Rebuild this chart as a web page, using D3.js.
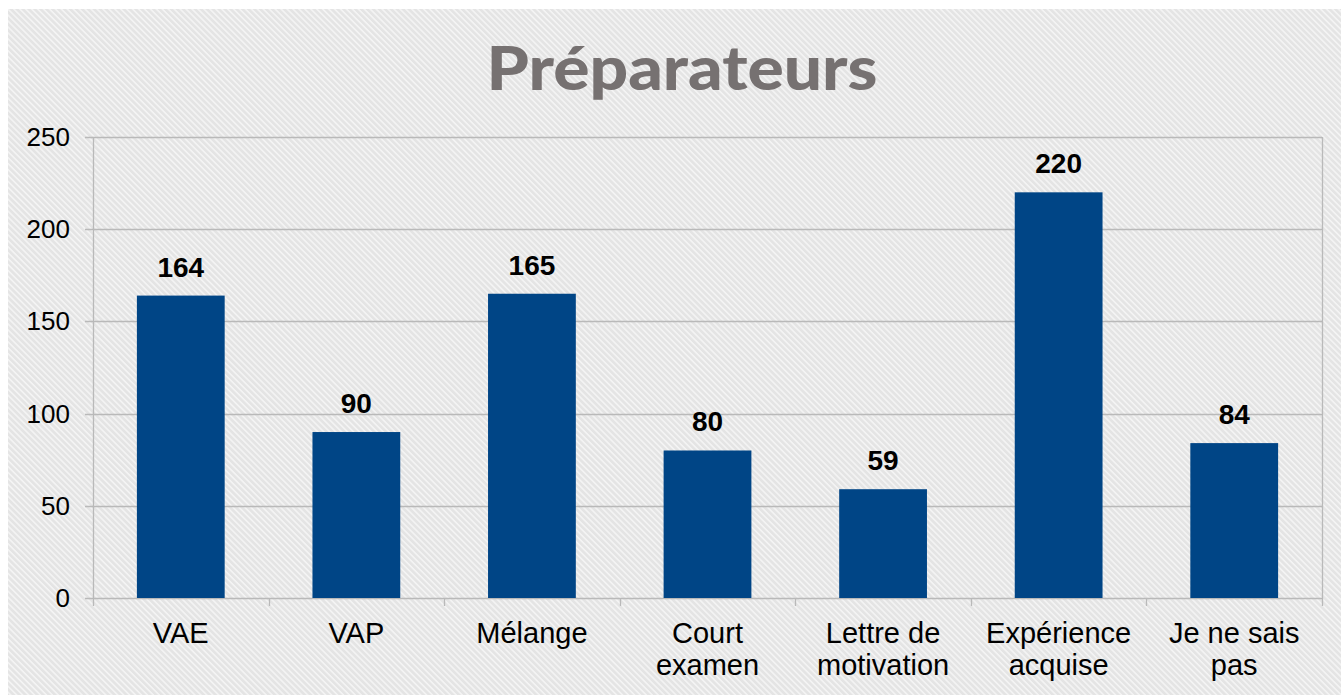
<!DOCTYPE html>
<html>
<head>
  <meta charset="utf-8">
  <title>Préparateurs</title>
  <script src="https://d3js.org/d3.v7.min.js"></script>
  <style>
    body { margin: 0; background: #ffffff; }
    svg { display: block; }
  </style>
</head>
<body>
  <div id="chart"></div>
  <script>
    // Données du graphique
    const categories = ["VAE", "VAP", "Mélange", "Court examen", "Lettre de motivation", "Expérience acquise", "Je ne sais pas"];
    const tickLabels = ["VAE", "VAP", "Mélange", "Court\nexamen", "Lettre de\nmotivation", "Expérience\nacquise", "Je ne sais\npas"];
    const values = [164, 90, 165, 80, 59, 220, 84];
    const yTicks = [0, 50, 100, 150, 200, 250];
    const title = "Préparateurs";

    const W = 1341, H = 695;
    const plot = {left: 93, right: 1322, top: 137, bottom: 598};

    const svg = d3.select("#chart").append("svg")
      .attr("width", W)
      .attr("height", H);

    // Motif de fond (rayures diagonales)
    const defs = svg.append("defs");
    const pat = defs.append("pattern")
      .attr("id", "stripes")
      .attr("patternUnits", "userSpaceOnUse")
      .attr("width", 4.2)
      .attr("height", 4.2)
      .attr("patternTransform", "rotate(45)");
    pat.append("rect").attr("width", 4.2).attr("height", 4.2).attr("fill", "#e4e4e4");
    pat.append("rect").attr("width", 4.2).attr("height", 1.6).attr("fill", "#f4f4f4");

    svg.append("rect")
      .attr("x", 8).attr("y", 9)
      .attr("width", W - 8).attr("height", H - 9)
      .attr("fill", "url(#stripes)");

    // Titre
    svg.append("text")
      .attr("x", 682)
      .attr("y", 90)
      .attr("text-anchor", "middle")
      .attr("font-family", "Lato, 'Open Sans', sans-serif")
      .attr("font-weight", 900)
      .attr("font-size", 60)
      .attr("fill", "#767171")
      .attr("textLength", 391)
      .attr("lengthAdjust", "spacingAndGlyphs")
      .text(title);

    // Echelles
    const x = d3.scaleBand()
      .domain(categories)
      .range([plot.left, plot.right])
      .paddingInner(0.5)
      .paddingOuter(0.25);

    const y = d3.scaleLinear()
      .domain([0, 250])
      .range([plot.bottom, plot.top]);

    const gridColor = "#b9b9b9";

    // Lignes de grille horizontales
    svg.append("g")
      .selectAll("line")
      .data(yTicks)
      .join("line")
      .attr("x1", plot.left - 8)
      .attr("x2", plot.right)
      .attr("y1", d => Math.round(y(d)) + 0.5)
      .attr("y2", d => Math.round(y(d)) + 0.5)
      .attr("stroke", gridColor)
      .attr("stroke-width", 1.3);

    // Bordures verticales
    svg.append("line")
      .attr("x1", plot.left + 0.5).attr("x2", plot.left + 0.5)
      .attr("y1", plot.top).attr("y2", plot.bottom + 8)
      .attr("stroke", gridColor).attr("stroke-width", 1.3);
    svg.append("line")
      .attr("x1", plot.right + 0.5).attr("x2", plot.right + 0.5)
      .attr("y1", plot.top).attr("y2", plot.bottom + 8)
      .attr("stroke", gridColor).attr("stroke-width", 1.3);

    // Graduations de l'axe X (entre catégories)
    const step = x.step();
    svg.append("g")
      .selectAll("line")
      .data(categories.slice(1))
      .join("line")
      .attr("x1", d => Math.round(x(d) - step * 0.25) + 0.5)
      .attr("x2", d => Math.round(x(d) - step * 0.25) + 0.5)
      .attr("y1", plot.bottom)
      .attr("y2", plot.bottom + 8)
      .attr("stroke", gridColor)
      .attr("stroke-width", 1.3);

    // Etiquettes de l'axe Y
    svg.append("g")
      .selectAll("text")
      .data(yTicks)
      .join("text")
      .attr("x", 70)
      .attr("y", d => y(d) + 9)
      .attr("text-anchor", "end")
      .attr("font-family", "'Liberation Sans', Arial, sans-serif")
      .attr("font-size", 26)
      .attr("fill", "#000")
      .text(d => d);

    // Barres
    svg.append("g")
      .selectAll("rect")
      .data(values)
      .join("rect")
      .attr("x", (d, i) => x(categories[i]))
      .attr("y", d => y(d))
      .attr("width", x.bandwidth())
      .attr("height", d => y(0) - y(d))
      .attr("fill", "#004586");

    // Valeurs au-dessus des barres
    svg.append("g")
      .selectAll("text")
      .data(values)
      .join("text")
      .attr("x", (d, i) => x(categories[i]) + x.bandwidth() / 2)
      .attr("y", d => y(d) - 19)
      .attr("text-anchor", "middle")
      .attr("font-family", "'Liberation Sans', Arial, sans-serif")
      .attr("font-weight", "bold")
      .attr("font-size", 28)
      .attr("fill", "#000")
      .text(d => d);

    // Etiquettes de l'axe X
    const xl = svg.append("g")
      .selectAll("text")
      .data(tickLabels)
      .join("text")
      .attr("x", (d, i) => x(categories[i]) + x.bandwidth() / 2)
      .attr("y", 643)
      .attr("text-anchor", "middle")
      .attr("font-family", "'Liberation Sans', Arial, sans-serif")
      .attr("font-size", 29)
      .attr("fill", "#000");
    xl.selectAll("tspan")
      .data(d => d.split("\n"))
      .join("tspan")
      .attr("x", function() { return d3.select(this.parentNode).attr("x"); })
      .attr("dy", (d, i) => i === 0 ? 0 : 32)
      .text(d => d);
  </script>
</body>
</html>
